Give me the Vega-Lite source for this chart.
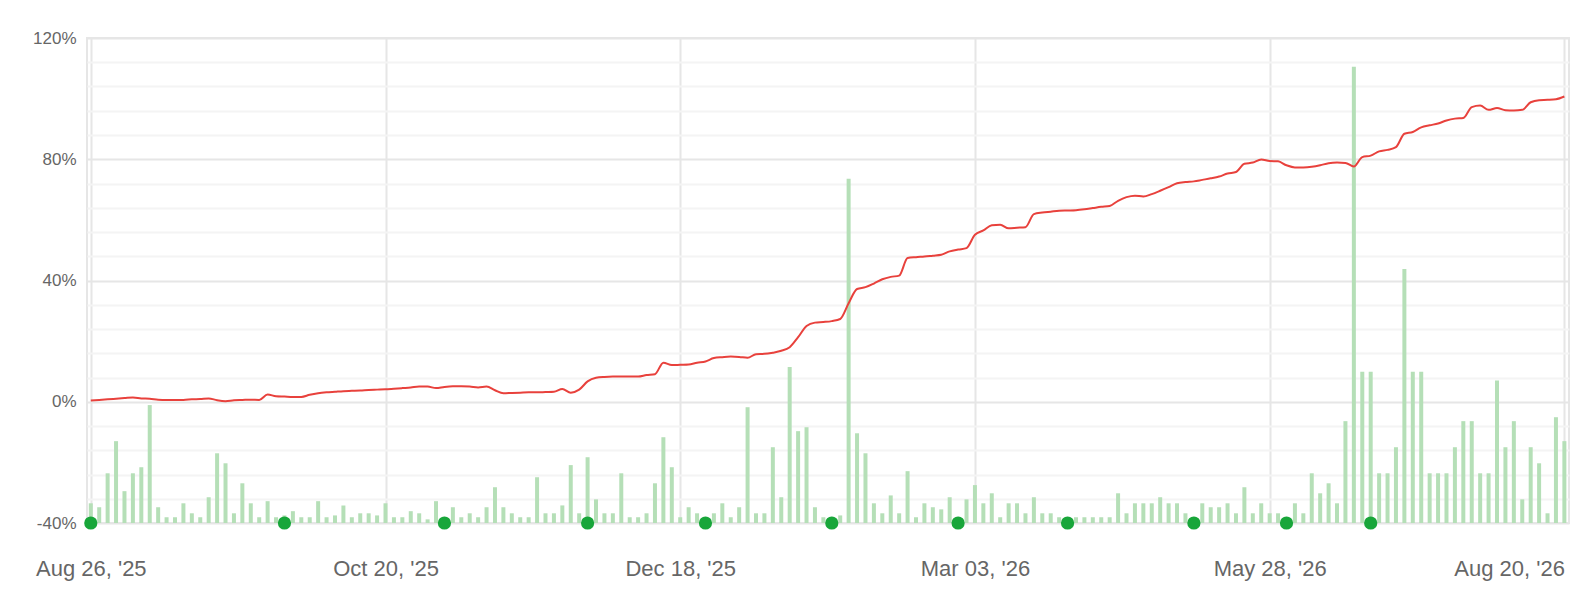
{
  "$schema": "https://vega.github.io/schema/vega-lite/v6.json",
  "autosize": {"type": "none"},
  "padding": {"left": 87, "top": 38, "right": 13, "bottom": 85},
  "width": 1482,
  "height": 485,
  "background": "#ffffff",
  "config": {
    "view": {"stroke": "#e6e6e6", "strokeWidth": 2},
    "font": "Liberation Sans",
    "axis": {"labelFont": "Liberation Sans", "labelColor": "#666666", "ticks": false, "domain": false}
  },
  "datasets": {
    "main": [
      {"i":0,"v":-33.5,"r":0.4},{"i":1,"v":-34.8,"r":0.6},{"i":2,"v":-23.6,"r":0.8},{"i":3,"v":-13,"r":1.0},{"i":4,"v":-29.5,"r":1.2},
      {"i":5,"v":-23.6,"r":1.4},{"i":6,"v":-21.6,"r":1.1},{"i":7,"v":-1.1,"r":1.0},{"i":8,"v":-34.8,"r":0.7},{"i":9,"v":-38.1,"r":0.6},
      {"i":10,"v":-38.1,"r":0.6},{"i":11,"v":-33.5,"r":0.6},{"i":12,"v":-36.8,"r":0.8},{"i":13,"v":-38.1,"r":0.9},{"i":14,"v":-31.5,"r":1.1},
      {"i":15,"v":-17,"r":0.5},{"i":16,"v":-20.3,"r":0.2},{"i":17,"v":-36.8,"r":0.5},{"i":18,"v":-26.9,"r":0.6},{"i":19,"v":-33.5,"r":0.7},
      {"i":20,"v":-38.1,"r":0.6},{"i":21,"v":-32.8,"r":2.4},{"i":22,"v":-38.1,"r":1.8},{"i":23,"v":-37.5,"r":1.7},{"i":24,"v":-36.1,"r":1.6},
      {"i":25,"v":-38.1,"r":1.6},{"i":26,"v":-38.1,"r":2.3},{"i":27,"v":-32.8,"r":2.8},{"i":28,"v":-38.1,"r":3.1},{"i":29,"v":-37.5,"r":3.3},
      {"i":30,"v":-34.2,"r":3.5},{"i":31,"v":-38.1,"r":3.6},{"i":32,"v":-36.8,"r":3.7},{"i":33,"v":-36.8,"r":3.9},{"i":34,"v":-37.5,"r":4.0},
      {"i":35,"v":-33.5,"r":4.1},{"i":36,"v":-38.1,"r":4.3},{"i":37,"v":-38.1,"r":4.5},{"i":38,"v":-36.1,"r":4.7},{"i":39,"v":-36.8,"r":5.0},
      {"i":40,"v":-38.8,"r":5.0},{"i":41,"v":-32.8,"r":4.5},{"i":42,"v":-38,"r":4.9},{"i":43,"v":-34.8,"r":5.1},{"i":44,"v":-38.1,"r":5.1},
      {"i":45,"v":-36.8,"r":5.0},{"i":46,"v":-38.1,"r":4.7},{"i":47,"v":-34.8,"r":5.0},{"i":48,"v":-28.2,"r":3.8},{"i":49,"v":-34.8,"r":2.8},
      {"i":50,"v":-36.8,"r":2.9},{"i":51,"v":-38.1,"r":3.0},{"i":52,"v":-38.1,"r":3.1},{"i":53,"v":-24.9,"r":3.1},{"i":54,"v":-36.8,"r":3.2},
      {"i":55,"v":-36.8,"r":3.3},{"i":56,"v":-34.2,"r":4.2},{"i":57,"v":-20.9,"r":3.0},{"i":58,"v":-36.8,"r":4.0},{"i":59,"v":-18.3,"r":6.7},
      {"i":60,"v":-32.2,"r":7.9},{"i":61,"v":-36.8,"r":8.2},{"i":62,"v":-36.8,"r":8.3},{"i":63,"v":-23.6,"r":8.3},{"i":64,"v":-38.1,"r":8.3},
      {"i":65,"v":-38.1,"r":8.3},{"i":66,"v":-36.8,"r":8.8},{"i":67,"v":-26.9,"r":9.1},{"i":68,"v":-11.7,"r":12.9},{"i":69,"v":-21.6,"r":12.1},
      {"i":70,"v":-38.1,"r":12.2},{"i":71,"v":-34.8,"r":12.3},{"i":72,"v":-36.8,"r":12.9},{"i":73,"v":-38,"r":13.3},{"i":74,"v":-36.8,"r":14.4},
      {"i":75,"v":-33.5,"r":14.7},{"i":76,"v":-38.1,"r":14.9},{"i":77,"v":-34.8,"r":14.8},{"i":78,"v":-1.8,"r":14.5},{"i":79,"v":-36.8,"r":15.7},
      {"i":80,"v":-36.8,"r":15.8},{"i":81,"v":-15,"r":16.2},{"i":82,"v":-31.5,"r":16.8},{"i":83,"v":11.5,"r":18.0},{"i":84,"v":-9.7,"r":21.3},
      {"i":85,"v":-8.4,"r":25.0},{"i":86,"v":-34.8,"r":26.1},{"i":87,"v":-38.1,"r":26.3},{"i":88,"v":-38,"r":26.6},{"i":89,"v":-37.5,"r":27.3},
      {"i":90,"v":73.6,"r":32.5},{"i":91,"v":-10.4,"r":37.2},{"i":92,"v":-17,"r":37.8},{"i":93,"v":-33.5,"r":39.0},{"i":94,"v":-36.8,"r":40.4},
      {"i":95,"v":-30.9,"r":41.2},{"i":96,"v":-36.8,"r":41.6},{"i":97,"v":-22.9,"r":47.4},{"i":98,"v":-38.1,"r":47.7},{"i":99,"v":-33.5,"r":47.9},
      {"i":100,"v":-34.8,"r":48.2},{"i":101,"v":-35.5,"r":48.5},{"i":102,"v":-31.5,"r":49.6},{"i":103,"v":-38,"r":50.2},{"i":104,"v":-32.2,"r":50.7},
      {"i":105,"v":-27.5,"r":55.1},{"i":106,"v":-33.5,"r":56.5},{"i":107,"v":-30.2,"r":58.2},{"i":108,"v":-38.1,"r":58.4},{"i":109,"v":-33.5,"r":57.2},
      {"i":110,"v":-33.5,"r":57.4},{"i":111,"v":-36.8,"r":57.6},{"i":112,"v":-31.5,"r":61.9},{"i":113,"v":-36.8,"r":62.4},{"i":114,"v":-36.8,"r":62.7},
      {"i":115,"v":-38.1,"r":63.0},{"i":116,"v":-38,"r":63.1},{"i":117,"v":-38.1,"r":63.2},{"i":118,"v":-38.1,"r":63.5},{"i":119,"v":-38.1,"r":63.9},
      {"i":120,"v":-38.1,"r":64.3},{"i":121,"v":-38.1,"r":64.6},{"i":122,"v":-30.2,"r":66.3},{"i":123,"v":-36.8,"r":67.5},{"i":124,"v":-33.5,"r":68.0},
      {"i":125,"v":-33.5,"r":67.7},{"i":126,"v":-33.5,"r":68.5},{"i":127,"v":-31.5,"r":69.6},{"i":128,"v":-33.5,"r":70.8},{"i":129,"v":-33.5,"r":72.1},
      {"i":130,"v":-36.8,"r":72.5},{"i":131,"v":-38,"r":72.7},{"i":132,"v":-33.5,"r":73.2},{"i":133,"v":-34.8,"r":73.7},{"i":134,"v":-34.8,"r":74.3},
      {"i":135,"v":-33.5,"r":75.3},{"i":136,"v":-36.8,"r":75.8},{"i":137,"v":-28.2,"r":78.5},{"i":138,"v":-36.8,"r":78.9},{"i":139,"v":-33.5,"r":79.9},
      {"i":140,"v":-36.8,"r":79.4},{"i":141,"v":-36.8,"r":79.3},{"i":142,"v":-38,"r":78.0},{"i":143,"v":-33.5,"r":77.3},{"i":144,"v":-36.8,"r":77.3},
      {"i":145,"v":-23.6,"r":77.5},{"i":146,"v":-30.2,"r":78.0},{"i":147,"v":-26.9,"r":78.7},{"i":148,"v":-33.5,"r":78.9},{"i":149,"v":-6.4,"r":78.8},
      {"i":150,"v":110.5,"r":77.6},{"i":151,"v":9.9,"r":80.7},{"i":152,"v":9.9,"r":81.2},{"i":153,"v":-23.6,"r":82.6},{"i":154,"v":-23.6,"r":83.1},
      {"i":155,"v":-15,"r":84.0},{"i":156,"v":43.8,"r":88.4},{"i":157,"v":9.9,"r":89.0},{"i":158,"v":9.9,"r":90.5},{"i":159,"v":-23.6,"r":91.2},
      {"i":160,"v":-23.6,"r":91.8},{"i":161,"v":-23.6,"r":92.8},{"i":162,"v":-15,"r":93.4},{"i":163,"v":-6.4,"r":93.6},{"i":164,"v":-6.4,"r":97.2},
      {"i":165,"v":-23.6,"r":97.7},{"i":166,"v":-23.6,"r":96.3},{"i":167,"v":7,"r":96.9},{"i":168,"v":-15,"r":96.2},{"i":169,"v":-6.4,"r":96.1},
      {"i":170,"v":-32.2,"r":96.3},{"i":171,"v":-15,"r":98.8},{"i":172,"v":-20.3,"r":99.5},{"i":173,"v":-36.8,"r":99.6},{"i":174,"v":-5.1,"r":99.8},
      {"i":175,"v":-13,"r":100.7}
    ],
    "dots": [
      {"i":0,"y":-40},{"i":23,"y":-40},{"i":42,"y":-40},{"i":59,"y":-40},{"i":73,"y":-40},{"i":88,"y":-40},
      {"i":103,"y":-40},{"i":116,"y":-40},{"i":131,"y":-40},{"i":142,"y":-40},{"i":152,"y":-40}
    ]
  },
  "encoding": {
    "x": {
      "field": "i",
      "type": "quantitative",
      "scale": {"domain": [-0.45, 175.55], "nice": false, "zero": false, "padding": 0},
      "axis": {
        "title": null,
        "values": [0, 35, 70, 105, 140, 175],
        "grid": true,
        "gridColor": "#e6e6e6",
        "gridWidth": 2,
        "labelFontSize": 22,
        "labelPadding": 35,
        "labelAlign": {"condition": {"test": "datum.value == 175", "value": "right"}, "value": "center"},
        "labelExpr": "datum.value == 0 ? \"Aug 26, '25\" : datum.value == 35 ? \"Oct 20, '25\" : datum.value == 70 ? \"Dec 18, '25\" : datum.value == 105 ? \"Mar 03, '26\" : datum.value == 140 ? \"May 28, '26\" : \"Aug 20, '26\""
      }
    }
  },
  "layer": [
    {
      "data": {"name": "main"},
      "mark": {"type": "bar", "width": 4, "color": "#b5dfb7"},
      "encoding": {
        "y": {
          "field": "v",
          "type": "quantitative",
          "scale": {"domain": [-40, 120], "nice": false, "zero": false},
          "axis": {
            "title": null,
            "values": [-40, 0, 40, 80, 120],
            "grid": true,
            "gridColor": "#e6e6e6",
            "gridWidth": 2,
            "labelFontSize": 17,
            "labelPadding": 11,
            "labelExpr": "datum.value + '%'"
          }
        },
        "y2": {"datum": -40}
      }
    },
    {
      "data": {"name": "main"},
      "mark": {"type": "line", "color": "#e8413c", "strokeWidth": 2, "interpolate": "monotone"},
      "encoding": {
        "y": {
          "field": "r",
          "type": "quantitative",
          "axis": {
            "orient": "left",
            "title": null,
            "values": [-32, -24, -16, -8, 8, 16, 24, 32, 48, 56, 64, 72, 88, 96, 104, 112],
            "grid": true,
            "gridColor": "#f4f4f4",
            "gridWidth": 2,
            "labels": false
          }
        }
      }
    },
    {
      "data": {"name": "dots"},
      "mark": {"type": "circle", "size": 175, "color": "#18a63a", "opacity": 1},
      "encoding": {
        "y": {"field": "y", "type": "quantitative", "axis": null}
      }
    }
  ],
  "resolve": {"scale": {"y": "shared"}, "axis": {"y": "independent"}}
}
